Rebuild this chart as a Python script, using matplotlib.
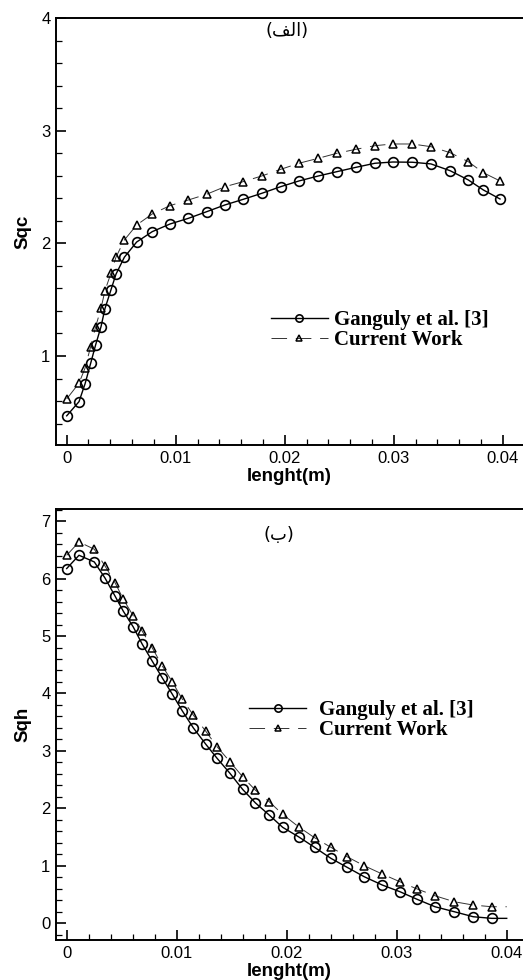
import matplotlib
matplotlib.use("Agg")
import matplotlib.pyplot as plt
from matplotlib.ticker import MultipleLocator

# style
matplotlib.rcParams.update({
    "font.family": ["Liberation Sans", "DejaVu Sans"],
    "xtick.direction": "in",
    "ytick.direction": "in",
    "xtick.labelsize": 12,
    "ytick.labelsize": 12,
    "axes.linewidth": 1.4,
})

# ---- data: panel (a) Sqc ----
x_top = [0, 0.00113, 0.00168, 0.0022, 0.00266, 0.00315, 0.00351, 0.00406, 0.00452,
         0.00529, 0.00642, 0.00785, 0.00948, 0.01116, 0.01284, 0.01452, 0.0162,
         0.01789, 0.01963, 0.02131, 0.02308, 0.02477, 0.02654, 0.02828, 0.02991,
         0.03171, 0.03342, 0.03517, 0.03684, 0.03822, 0.03975]
ganguly_top = [0.469, 0.595, 0.752, 0.936, 1.101, 1.261, 1.421, 1.587, 1.726, 1.877,
               2.012, 2.104, 2.172, 2.222, 2.281, 2.341, 2.391, 2.444, 2.503, 2.554,
               2.598, 2.636, 2.675, 2.711, 2.722, 2.720, 2.705, 2.645, 2.563, 2.474, 2.394]
current_top = [0.619, 0.759, 0.892, 1.084, 1.261, 1.424, 1.580, 1.735, 1.877, 2.030,
               2.163, 2.261, 2.335, 2.385, 2.436, 2.503, 2.548, 2.598, 2.657, 2.711,
               2.755, 2.799, 2.835, 2.867, 2.882, 2.882, 2.858, 2.805, 2.725, 2.627, 2.554]

# ---- data: panel (b) Sqh ----
x_bot = [0, 0.00112, 0.00251, 0.00348, 0.00439, 0.00515, 0.00605, 0.00687, 0.00778,
         0.00869, 0.0096, 0.01051, 0.01151, 0.01264, 0.01368, 0.01485, 0.016, 0.01715,
         0.01842, 0.01964, 0.02108, 0.02254, 0.02403, 0.0255, 0.02705, 0.0287, 0.0303,
         0.03187, 0.03348, 0.03524, 0.03696, 0.03864, 0.04]
ganguly_bot = [6.174, 6.405, 6.289, 6.010, 5.697, 5.431, 5.158, 4.857, 4.562, 4.271,
               3.988, 3.697, 3.402, 3.118, 2.870, 2.609, 2.330, 2.097, 1.883, 1.670,
               1.506, 1.322, 1.130, 0.974, 0.811, 0.666, 0.550, 0.417, 0.289, 0.202,
               0.115, 0.087, 0.087]
current_bot = [6.405, 6.637, 6.510, 6.219, 5.930, 5.640, 5.350, 5.083, 4.793, 4.480,
               4.202, 3.901, 3.623, 3.344, 3.071, 2.810, 2.550, 2.318, 2.115, 1.896,
               1.680, 1.489, 1.322, 1.158, 1.002, 0.857, 0.723, 0.597, 0.480, 0.376,
               0.318, 0.289, 0.289]

labels = ["Ganguly et al. [3]", "Current Work"]
x_ticks = [0, 0.01, 0.02, 0.03, 0.04]
x_tick_labels = ["0", "0.01", "0.02", "0.03", "0.04"]
# Arabic panel tags, written in shaped (presentation) forms in visual order
tag_top = "(\ufed2\ufedf\ufe8d)"   # (الف)
tag_bot = "(\ufe8f)"               # (ب)

legend_font = {"family": "Liberation Serif", "weight": "bold", "size": 15}


def draw_panel(ax, x, ganguly, current, ylabel, tag, tag_xy, leg_anchor, ylim, xlim,
               n_mark, handle_pad):
    ax.plot(x, ganguly, color="black", lw=1.0, marker="o", ms=7, mfc="none",
            mec="black", mew=1.2, markevery=list(range(n_mark)), label=labels[0])
    ax.plot(x, current, color="#333333", lw=0.7, ls=(0, (16, 9)), marker="^", ms=6,
            mfc="none", mec="black", mew=1.1, markevery=list(range(n_mark)),
            label=labels[1])
    ax.set_xlim(*xlim)
    ax.set_ylim(*ylim)
    ax.set_xticks(x_ticks)
    ax.set_xticklabels(x_tick_labels)
    ax.xaxis.set_minor_locator(MultipleLocator(0.002))
    ax.yaxis.set_major_locator(MultipleLocator(1))
    ax.yaxis.set_minor_locator(MultipleLocator(0.2))
    ax.tick_params(which="major", length=7.5, width=1.2, pad=4)
    ax.tick_params(which="minor", length=4.5, width=0.9)
    ax.spines["right"].set_visible(False)
    ax.set_xlabel("lenght(m)", fontsize=13.5, fontweight="bold", labelpad=2)
    ax.set_ylabel(ylabel, fontsize=13.5, fontweight="bold", labelpad=7)
    ax.text(tag_xy[0], tag_xy[1], tag, transform=ax.transAxes, ha="center",
            va="center", fontsize=13, family=["DejaVu Sans"])
    ax.legend(loc="center left", bbox_to_anchor=leg_anchor, frameon=False,
              prop=legend_font, borderpad=0, borderaxespad=0, handlelength=2.75,
              handletextpad=handle_pad, labelspacing=0.0, markerscale=0.75)


fig = plt.figure(figsize=(5.23, 9.8), dpi=100)
ax1 = fig.add_axes([0.1071, 0.5459, 0.8929, 0.4357])
ax2 = fig.add_axes([0.1071, 0.0408, 0.8929, 0.4398])

draw_panel(ax1, x_top, ganguly_top, current_top, "Sqc", tag_top, (0.495, 0.969),
           (0.46, 0.269), (0.21, 4.0), (-0.00098, 0.04186), len(x_top), 0.3)
draw_panel(ax2, x_bot, ganguly_bot, current_bot, "Sqh", tag_bot, (0.478, 0.94),
           (0.413, 0.51), (-0.29, 7.21), (-0.00097, 0.04148), len(x_bot) - 1, 0.6)

fig.savefig("out.png", dpi=100)
